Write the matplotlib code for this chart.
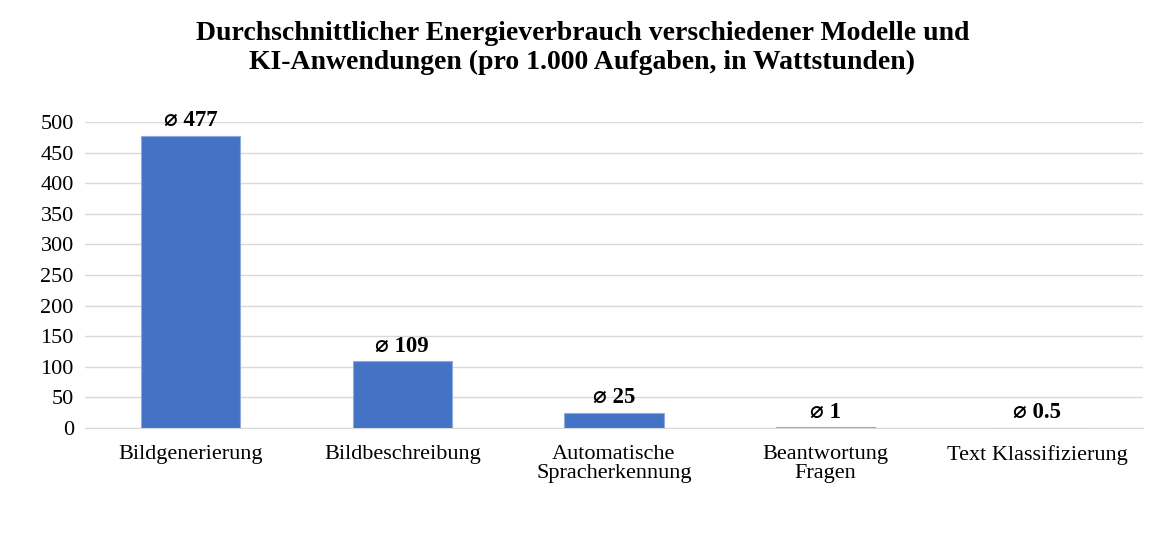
import matplotlib.pyplot as plt

categories = ['Bildgenerierung', 'Bildbeschreibung', 'Automatische\nSpracherkennung',
              'Beantwortung\nFragen', 'Text Klassifizierung']
values = [477, 109, 25, 1, 0.5]
value_labels = ['477', '109', '25', '1', '0.5']
yticks = [0, 50, 100, 150, 200, 250, 300, 350, 400, 450, 500]

plt.rcParams['font.family'] = ['Liberation Serif', 'DejaVu Sans']

fig = plt.figure(figsize=(11.72, 5.34), dpi=100)
ax = fig.add_axes([0.0725, 0.1985, 0.9025, 0.573])

x = range(len(categories))
ax.bar(x, values, width=0.47, color='#4472C4', edgecolor='#8faadc',
       linewidth=0.8, zorder=3)
for i, (v, lab) in enumerate(zip(values, value_labels)):
    ax.text(i, v + 8, '⌀ ' + lab, ha='center', va='bottom',
            fontsize=16.5, fontweight='bold')

ax.set_xlim(-0.5, 4.5)
ax.set_ylim(0, 500)
ax.set_yticks(yticks)
ax.set_xticks(list(x))
ax.set_xticklabels(categories, fontsize=16, linespacing=1.05)
ax.tick_params(axis='y', labelsize=16, length=0, pad=8)
ax.tick_params(axis='x', length=0, pad=12)
ax.grid(axis='y', color='#d9d9d9', linewidth=1, zorder=0)
for s in ['top', 'right', 'left']:
    ax.spines[s].set_visible(False)
ax.spines['bottom'].set_color('#d9d9d9')

fig.suptitle('Durchschnittlicher Energieverbrauch verschiedener Modelle und\n'
             'KI-Anwendungen (pro 1.000 Aufgaben, in Wattstunden)',
             fontsize=20, fontweight='bold', y=0.96, x=0.497, linespacing=1.2)

fig.savefig('out.png', dpi=100)
